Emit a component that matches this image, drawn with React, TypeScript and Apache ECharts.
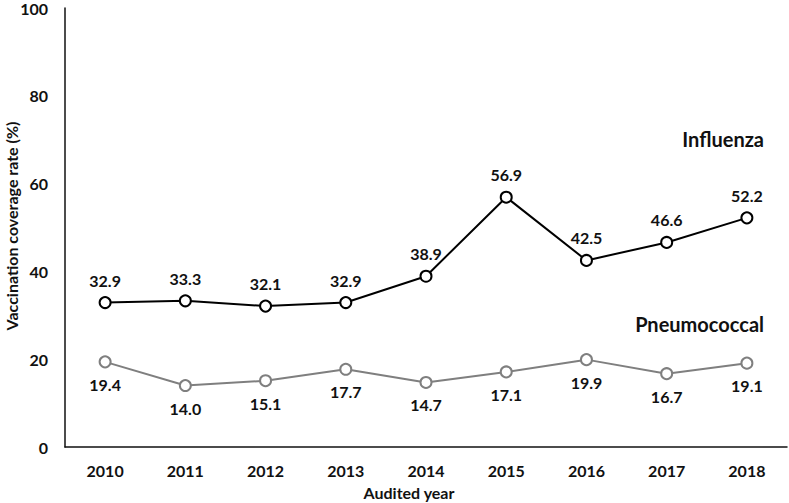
import React, { useEffect, useRef } from "react";
import * as echarts from "echarts";

const years = ["2010", "2011", "2012", "2013", "2014", "2015", "2016", "2017", "2018"];
const influenza = [32.9, 33.3, 32.1, 32.9, 38.9, 56.9, 42.5, 46.6, 52.2];
const pneumococcal = [19.4, 14.0, 15.1, 17.7, 14.7, 17.1, 19.9, 16.7, 19.1];
const yAxisTitle = "Vaccination coverage rate (%)";

const FONT = "Lato, 'Open Sans', sans-serif";

export default function App() {
  const ref = useRef<HTMLDivElement>(null);
  useEffect(() => {
    if (!ref.current) return;
    const chart = echarts.init(ref.current, null, { renderer: "svg" });
    const labelStyle = {
      show: true,
      fontFamily: FONT,
      fontWeight: "bold",
      fontSize: 16,
      color: "#111",
      formatter: (p: any) => p.value.toFixed(1),
      distance: 8,
    };
    chart.setOption({
      animation: false,
      textStyle: { fontFamily: FONT },
      grid: {
        left: 65,
        right: 2,
        top: 8,
        bottom: 56,
        containLabel: false,
        outerBoundsMode: "none",
      },
      xAxis: {
        type: "category",
        data: years,
        boundaryGap: true,
        axisLine: { lineStyle: { color: "#111", width: 1.5 } },
        axisTick: { show: false },
        axisLabel: { fontFamily: FONT, fontWeight: "bold", fontSize: 16, color: "#111", margin: 15 },
        name: "Audited year",
        nameLocation: "middle",
        nameGap: 37,
        nameTextStyle: {
          fontFamily: FONT,
          fontWeight: "bold",
          fontSize: 16,
          color: "#111",
          padding: [0, 34, 0, 0],
        },
      },
      yAxis: {
        type: "value",
        min: 0,
        max: 100,
        interval: 20,
        axisLine: { show: true, lineStyle: { color: "#111", width: 1.5 } },
        axisTick: { show: false },
        splitLine: { show: false },
        axisLabel: { fontFamily: FONT, fontWeight: "bold", fontSize: 16, color: "#111", margin: 17 },
      },
      series: [
        {
          name: "Influenza",
          type: "line",
          data: influenza,
          symbol: "circle",
          symbolSize: 11,
          lineStyle: { color: "#000", width: 2 },
          itemStyle: { color: "#fff", borderColor: "#000", borderWidth: 2 },
          label: { ...labelStyle, position: "top" },
        },
        {
          name: "Pneumococcal",
          type: "line",
          data: pneumococcal,
          symbol: "circle",
          symbolSize: 11,
          lineStyle: { color: "#7f7f7f", width: 2 },
          itemStyle: { color: "#fff", borderColor: "#7f7f7f", borderWidth: 2 },
          label: { ...labelStyle, position: "bottom" },
        },
      ],
      graphic: [
        {
          type: "text",
          x: 11,
          y: 226,
          rotation: Math.PI / 2,
          style: {
            text: yAxisTitle,
            fontFamily: FONT,
            fontWeight: "bold",
            fontSize: 16,
            fill: "#111",
            textAlign: "center",
            textVerticalAlign: "middle",
          },
        },
        {
          type: "text",
          right: 25,
          top: 129,
          style: { text: "Influenza", fontFamily: FONT, fontWeight: "bold", fontSize: 20, fill: "#111" },
        },
        {
          type: "text",
          right: 25,
          top: 314,
          style: { text: "Pneumococcal", fontFamily: FONT, fontWeight: "bold", fontSize: 20, fill: "#111" },
        },
      ],
    });
    return () => chart.dispose();
  }, []);
  return (
    <div
      ref={ref}
      style={{ position: "absolute", left: 0, top: 0, width: 789, height: 503 }}
    />
  );
}
